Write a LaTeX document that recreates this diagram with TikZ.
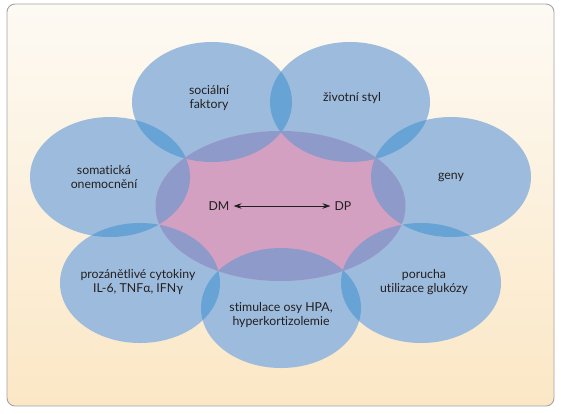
\documentclass[tikz,border=0pt]{standalone}
\usepackage{fontspec}
\setmainfont{Lato}[Ligatures={NoCommon,TeX}]
\usetikzlibrary{arrows.meta}
\definecolor{lblue}{HTML}{9DBCDD}
\definecolor{dblue}{HTML}{67A3D5}
\definecolor{cpink}{HTML}{D3A0C1}
\definecolor{cpurple}{HTML}{8E9AC9}
\definecolor{bgtop}{HTML}{FDFAF4}
\definecolor{bgbot}{HTML}{FBE7C5}
\definecolor{framec}{HTML}{A3A3A3}
\definecolor{txt}{HTML}{231F20}
\def\Ea{(212,102) ellipse [x radius=80, y radius=60]}
\def\Eb{(350,102) ellipse [x radius=80, y radius=60]}
\def\Ec{(451,177) ellipse [x radius=80, y radius=60]}
\def\Ed{(421,283) ellipse [x radius=80, y radius=60]}
\def\Ee{(281,308) ellipse [x radius=80, y radius=60]}
\def\Ef{(140,283) ellipse [x radius=80, y radius=60]}
\def\Eg{(110,177) ellipse [x radius=80, y radius=60]}
\def\Ecen{(280.5,206) ellipse [x radius=125, y radius=75]}
\begin{document}
\begin{tikzpicture}[x=1pt,y=-1pt,
  lbl/.style={font=\fontsize{12.3}{13.5}\selectfont, align=center, text=txt, inner sep=0pt},
  outerfill/.style={fill=lblue},
  pairfill/.style={fill=dblue},
  cenfill/.style={fill=cpink},
  cenover/.style={fill=cpurple},
  dblarrow/.style={{Stealth[length=8pt,width=5.5pt]}-{Stealth[length=8pt,width=5.5pt]}, line width=0.8pt, draw=txt, shorten <=4pt, shorten >=4pt}]
\useasboundingbox (0,0) rectangle (561,413);
\shade[top color=bgtop, bottom color=bgbot, draw=framec, line width=0.9pt, rounded corners=8pt] (7,4) rectangle (554,406);
% outer ellipses
\foreach \e in {\Ea,\Eb,\Ec,\Ed,\Ee,\Ef,\Eg} {\fill[outerfill] \e;}
% pairwise overlaps
\begin{scope}\clip \Ea; \fill[pairfill] \Eb; \fill[pairfill] \Eg; \end{scope}
\begin{scope}\clip \Eb; \fill[pairfill] \Ec; \end{scope}
\begin{scope}\clip \Ec; \fill[pairfill] \Ed; \end{scope}
\begin{scope}\clip \Ed; \fill[pairfill] \Ee; \end{scope}
\begin{scope}\clip \Ee; \fill[pairfill] \Ef; \end{scope}
\begin{scope}\clip \Ef; \fill[pairfill] \Eg; \end{scope}
% central ellipse
\fill[cenfill] \Ecen;
\begin{scope}\clip \Ecen;
  \foreach \e in {\Ea,\Eb,\Ec,\Ed,\Ee,\Ef,\Eg} {\fill[cenover] \e;}
\end{scope}
% labels
\node[lbl] (soc) at (209,98) {sociální\\faktory};
\node[lbl] (ziv) at (352,98) {životní styl};
\node[lbl] (gen) at (451,177) {geny};
\node[lbl] (por) at (424,282) {porucha\\utilizace glukózy};
\node[lbl] (sti) at (281,315) {stimulace osy HPA,\\hyperkortizolemie};
\node[lbl] (pro) at (138,282) {prozánětlivé cytokiny\\IL-6, TNFα, IFNγ};
\node[lbl] (som) at (104,177) {somatická\\onemocnění};
\node[lbl] (dm) at (219,206) {DM};
\node[lbl] (dp) at (343,206) {DP};
\draw[dblarrow] (dm) -- (dp);
\end{tikzpicture}
\end{document}
